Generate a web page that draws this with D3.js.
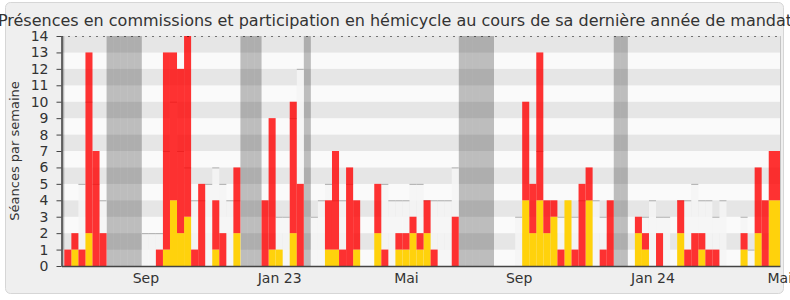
<!DOCTYPE html>
<html>
<head>
<meta charset="utf-8">
<script src="https://cdn.jsdelivr.net/npm/d3@7"></script>
<style>
body{margin:0;background:#fff;}
svg{display:block;font-family:"DejaVu Sans",sans-serif;}
</style>
</head>
<body>
<div id="chart"></div>
<script>
// une valeur par semaine, semaine 0 = fin mai 2022
var hemicycle = [
    0,1,0,2,0,0,0,0,0,0,
    0,0,0,0,1,4,2,3,0,0,
    0,1,0,0,2,0,0,0,0,1,
    1,0,2,0,0,0,0,1,1,0,
    0,1,0,0,2,0,0,1,1,2,
    1,2,0,0,0,0,0,0,0,0,
    0,0,0,0,0,4,2,4,2,3,
    0,4,0,0,4,0,0,0,0,0,
    0,2,1,0,0,0,0,2,0,0,
    1,0,0,0,0,0,1,0,2,0,
    4];
var commission = [
    1,1,1,11,7,2,0,0,0,0,
    0,0,0,1,12,9,10,11,1,5,
    0,3,2,0,4,0,0,0,4,8,
    0,0,8,5,0,0,0,3,6,1,
    6,3,0,0,3,1,0,1,1,1,
    1,2,1,0,0,3,0,0,0,0,
    0,0,0,0,0,6,3,9,2,1,
    1,0,1,5,2,0,1,4,0,0,
    0,1,1,0,2,0,0,2,1,2,
    1,1,1,0,0,0,1,0,4,4,
    3];
var mediane = [
    0,0,5,10,5,4,0,0,0,0,
    0,2,2,2,7,10,7,6,4,4,
    5,6,5,4,4,0,0,0,0,0,
    3,3,9,12,0,3,4,5,4,4,
    5,0,0,0,0,5,4,4,4,5,
    5,4,4,4,4,6,0,0,0,0,
    0,0,0,0,3,0,0,7,0,0,
    3,3,3,4,4,4,3,0,0,0,
    0,0,3,4,3,3,0,4,4,5,
    4,4,3,4,0,0,3,1,0,0,
    0];
var vacances = [-1,6,7,8,9,10,25,26,27,34,56,57,58,59,60,78,79];
var tickWeeks = [11,30,48,64,83,101];
var tickLabels = ["Sep","Jan 23","Mai","Sep","Jan 24","Mai"];

var W = 790, H = 300;
var margin = {left:61.5, right:10, top:36, bottom:34};
var innerW = W - margin.left - margin.right;
var innerH = H - margin.top - margin.bottom;

var svg = d3.select("#chart").append("svg")
    .attr("width", W)
    .attr("height", H);

// fond du cadre
svg.append("rect")
    .attr("x", 5.5).attr("y", 2.5)
    .attr("width", 778).attr("height", 291)
    .attr("rx", 5)
    .attr("fill", "#efefef")
    .attr("stroke", "#d6d6d6");

var x = d3.scaleLinear().domain([-0.4, 101.6]).range([0, innerW]);
var y = d3.scaleLinear().domain([0, 14]).range([innerH, 0]);

svg.append("defs").append("clipPath").attr("id", "clip")
    .append("rect").attr("width", innerW).attr("height", innerH);

var g = svg.append("g").attr("transform", "translate(" + margin.left + "," + margin.top + ")");
var plot = g.append("g").attr("clip-path", "url(#clip)");

// bandes horizontales
plot.selectAll(".band").data(d3.range(14)).enter().append("rect")
    .attr("x", 0).attr("width", innerW)
    .attr("y", function(d){ return y(d + 1); })
    .attr("height", function(d){ return y(d) - y(d + 1); })
    .attr("fill", function(d){ return d % 2 ? "#e6e6e6" : "#fafafa"; });

// vacances parlementaires
plot.selectAll(".vac").data(vacances).enter().append("rect")
    .attr("x", function(d){ return x(d); })
    .attr("width", function(d){ return x(d + 1) - x(d); })
    .attr("y", 0).attr("height", innerH)
    .attr("fill", "#000").attr("fill-opacity", 0.245);

var weeks = d3.range(hemicycle.length);
var last = weeks.length - 1;
function right(i){ return i === last ? innerW : x(i + 1); }

// presence mediane des deputes
var med = weeks.filter(function(i){ return mediane[i] > 0; });
plot.selectAll(".med").data(med).enter().append("rect")
    .attr("x", function(i){ return x(i); })
    .attr("width", function(i){ return right(i) - x(i); })
    .attr("y", function(i){ return y(mediane[i]); })
    .attr("height", function(i){ return y(0) - y(mediane[i]); })
    .attr("fill", "#f4f4f4").attr("fill-opacity", 0.85);
plot.selectAll(".medline").data(med).enter().append("line")
    .attr("x1", function(i){ return x(i); })
    .attr("x2", function(i){ return right(i); })
    .attr("y1", function(i){ return y(mediane[i]) + 0.5; })
    .attr("y2", function(i){ return y(mediane[i]) + 0.5; })
    .attr("stroke", "#acacac");

// barres empilees
var table = weeks.map(function(i){ return {week:i, hemicycle:hemicycle[i], commission:commission[i]}; });
var series = d3.stack().keys(["hemicycle", "commission"])(table);
var colors = {hemicycle:"#ffd20c", commission:"#ff0000"};
var opac = {hemicycle:1, commission:0.8};

series.forEach(function(s){
    plot.selectAll(".bar-" + s.key).data(s.filter(function(d){ return d[1] > d[0]; })).enter().append("rect")
        .attr("x", function(d){ return x(d.data.week); })
        .attr("width", function(d){ return right(d.data.week) - x(d.data.week); })
        .attr("y", function(d){ return y(d[1]); })
        .attr("height", function(d){ return y(d[0]) - y(d[1]); })
        .attr("fill", colors[s.key])
        .attr("fill-opacity", opac[s.key]);
});
var top = series[1].filter(function(d){ return d[1] > d[0]; });
plot.selectAll(".top").data(top).enter().append("line")
    .attr("x1", function(d){ return x(d.data.week); })
    .attr("x2", function(d){ return right(d.data.week); })
    .attr("y1", function(d){ return y(d[1]) + 0.5; })
    .attr("y2", function(d){ return y(d[1]) + 0.5; })
    .attr("stroke", "#f00");

// ligne pointillee du haut et bord droit
g.append("line")
    .attr("x1", 0).attr("x2", innerW)
    .attr("y1", 0.5).attr("y2", 0.5)
    .attr("stroke", "#000").attr("stroke-dasharray", "1,6");
g.append("line")
    .attr("x1", innerW + 0.5).attr("x2", innerW + 0.5)
    .attr("y1", 0).attr("y2", innerH)
    .attr("stroke", "#c4c4c4");

// axes
var yAxis = g.append("g")
    .call(d3.axisLeft(y).tickValues(d3.range(15)).tickSize(5).tickPadding(8).tickSizeOuter(0));
var xAxis = g.append("g")
    .attr("transform", "translate(0," + innerH + ")")
    .call(d3.axisBottom(x)
        .tickValues(tickWeeks.map(function(w){ return w + 0.5; }))
        .tickFormat(function(d, i){ return tickLabels[i]; })
        .tickSize(0).tickPadding(7).tickSizeOuter(0));
[xAxis, yAxis].forEach(function(a){
    a.select(".domain").attr("stroke", "#444").attr("stroke-width", 1.5);
    a.selectAll(".tick line").attr("stroke", "#444");
    a.selectAll("text").attr("font-family", "DejaVu Sans").attr("font-size", 14).attr("fill", "#333");
});

// titres
svg.append("text")
    .attr("x", W / 2).attr("y", 25.5)
    .attr("text-anchor", "middle")
    .attr("font-size", 16)
    .attr("fill", "#333")
    .text("Présences en commissions et participation en hémicycle au cours de sa dernière année de mandat");
svg.append("text")
    .attr("transform", "translate(19," + (margin.top + innerH / 2) + ") rotate(-90)")
    .attr("text-anchor", "middle")
    .attr("font-size", 13)
    .attr("fill", "#333")
    .text("Séances par semaine");
</script>
</body>
</html>
